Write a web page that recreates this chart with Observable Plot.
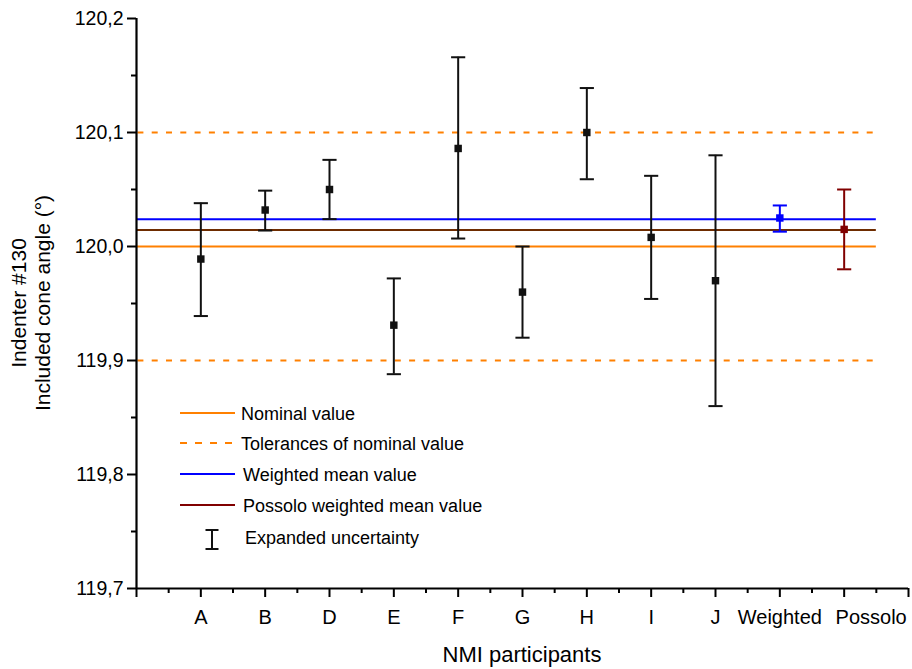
<!DOCTYPE html>
<html>
<head>
<meta charset="utf-8">
<script src="https://cdn.jsdelivr.net/npm/d3@7"></script>
<script src="https://cdn.jsdelivr.net/npm/@observablehq/plot@0.6"></script>
<style>
  html, body { margin: 0; padding: 0; background: white; }
  #chart { width: 912px; height: 669px; }
</style>
</head>
<body>
<div id="chart"></div>
<script>
// ---- data ----
const categories = ["A", "B", "D", "E", "F", "G", "H", "I", "J", "Weighted", "Possolo"];
const values = [119.989, 120.032, 120.050, 119.931, 120.086, 119.960, 120.100, 120.008, 119.970, 120.025, 120.015];
const lower  = [119.939, 120.014, 120.024, 119.888, 120.007, 119.920, 120.059, 119.954, 119.860, 120.013, 119.980];
const upper  = [120.038, 120.049, 120.076, 119.972, 120.166, 120.000, 120.139, 120.062, 120.080, 120.036, 120.050];
const nominalValue = [120.0];
const tolerances = [119.9, 120.1];
const weightedMean = [120.024];
const possoloMean = [120.0145];
const yMajorTicks = [119.7, 119.8, 119.9, 120.0, 120.1, 120.2];
const yMinorTicks = [119.75, 119.85, 119.95, 120.05, 120.15];
const legendLabels = ["Nominal value", "Tolerances of nominal value", "Weighted mean value", "Possolo weighted mean value", "Expanded uncertainty"];

// ---- styles ----
const ORANGE = "#ff8000", BLUE = "#0000ff", BROWN = "#6e2c00", WINE = "#800000", INK = "#111";
const seriesColor = c => c === "Weighted" ? BLUE : c === "Possolo" ? WINE : INK;
const FONT = "'Liberation Sans', Arial, Helvetica, sans-serif";

const rows = categories.map((c, i) => ({cat: c, pos: i + 1, v: values[i], lo: lower[i], hi: upper[i], color: seriesColor(c)}));
const nCat = categories.length;
const lineEnd = nCat + 0.5;
const cap = 0.11;
const fmt = d => d.toFixed(1).replace(".", ",");

const chart = Plot.plot({
  width: 912,
  height: 669,
  marginLeft: 136,
  marginRight: 4,
  marginTop: 18,
  marginBottom: 81,
  style: {fontFamily: FONT, background: "white", color: "black"},
  x: {domain: [0, nCat + 1], axis: null},
  y: {domain: [119.7, 120.2], axis: null},
  marks: [
    // reference lines
    Plot.ruleY(tolerances, {x1: 0, x2: lineEnd, stroke: ORANGE, strokeWidth: 2, strokeDasharray: "6,8.3", strokeDashoffset: -1.4}),
    Plot.ruleY(nominalValue, {x1: 0, x2: lineEnd, stroke: ORANGE, strokeWidth: 2}),
    Plot.ruleY(weightedMean, {x1: 0, x2: lineEnd, stroke: BLUE, strokeWidth: 2}),
    Plot.ruleY(possoloMean, {x1: 0, x2: lineEnd, stroke: BROWN, strokeWidth: 2}),
    // error bars
    Plot.ruleX(rows, {x: "pos", y1: "lo", y2: "hi", stroke: "color", strokeWidth: 2}),
    Plot.link(rows, {x1: d => d.pos - cap, x2: d => d.pos + cap, y1: "hi", y2: "hi", stroke: "color", strokeWidth: 2}),
    Plot.link(rows, {x1: d => d.pos - cap, x2: d => d.pos + cap, y1: "lo", y2: "lo", stroke: "color", strokeWidth: 2}),
    Plot.dot(rows, {x: "pos", y: "v", symbol: "square", r: 4.2, fill: "color", stroke: "none"}),
    // axes
    Plot.axisY({ticks: yMinorTicks, tickSize: 5, strokeWidth: 2, tickFormat: () => "", label: null}),
    Plot.axisY({ticks: yMajorTicks, tickSize: 9, tickPadding: 4, strokeWidth: 2, tickFormat: fmt, fontSize: 19.5, label: null}),
    Plot.axisX({ticks: d3.range(0.5, nCat + 1, 1), tickSize: 5, strokeWidth: 2, tickFormat: () => "", label: null}),
    Plot.axisX({ticks: d3.range(0, nCat + 2), tickSize: 9, tickPadding: 12, strokeWidth: 2,
      tickFormat: d => (d >= 1 && d < nCat) ? categories[d - 1] : "", fontSize: 20, label: null}),
    // last label sits shifted right of its tick, as in the reference
    Plot.text([categories[nCat - 1]], {x: d => categories.indexOf(d) + 1, frameAnchor: "bottom", dx: 27, dy: 21,
      lineAnchor: "top", fontSize: 20, fill: "black"}),
    Plot.ruleX([0], {y1: 119.7, y2: 120.2, strokeWidth: 2.2, stroke: "black"}),
    Plot.ruleY([119.7], {x1: 0, x2: nCat + 1, strokeWidth: 2.2, stroke: "black"})
  ]
});

document.getElementById("chart").appendChild(chart);

// ---- titles and legend (real text) ----
const svg = d3.select(chart);
const yTitle = svg.append("g").attr("transform", "translate(0,303)")
  .attr("font-family", FONT).attr("font-size", 21).attr("fill", "black").attr("text-anchor", "middle");
yTitle.append("text").attr("transform", "translate(26,0) rotate(-90)").text("Indenter #130");
yTitle.append("text").attr("transform", "translate(50,0) rotate(-90)").text("Included cone angle (°)");

svg.append("text").attr("x", 522).attr("y", 662).attr("text-anchor", "middle")
  .attr("font-family", FONT).attr("font-size", 22).attr("fill", "black").text("NMI participants");

const legend = svg.append("g").attr("font-family", FONT).attr("font-size", 18).attr("fill", "black")
  .attr("text-anchor", "start");
const legendLines = [
  {color: ORANGE, dash: null, y: 413, tx: 241},
  {color: ORANGE, dash: "7,8", y: 443, tx: 241},
  {color: BLUE, dash: null, y: 474, tx: 243},
  {color: WINE, dash: null, y: 505, tx: 243}
];
legendLines.forEach((d, i) => {
  const ln = legend.append("line").attr("x1", 180).attr("x2", 235).attr("y1", d.y).attr("y2", d.y)
    .attr("stroke", d.color).attr("stroke-width", 2);
  if (d.dash) ln.attr("stroke-dasharray", d.dash);
  legend.append("text").attr("x", d.tx).attr("y", d.y + 6.5).text(legendLabels[i]);
});
// error bar icon
const ix = 212, iy1 = 530, iy2 = 549;
legend.append("line").attr("x1", ix).attr("x2", ix).attr("y1", iy1).attr("y2", iy2).attr("stroke", INK).attr("stroke-width", 2);
legend.append("line").attr("x1", ix - 6.5).attr("x2", ix + 6.5).attr("y1", iy1).attr("y2", iy1).attr("stroke", INK).attr("stroke-width", 2);
legend.append("line").attr("x1", ix - 6.5).attr("x2", ix + 6.5).attr("y1", iy2).attr("y2", iy2).attr("stroke", INK).attr("stroke-width", 2);
legend.append("text").attr("x", 245).attr("y", 543.5).text(legendLabels[4]);
</script>
</body>
</html>
